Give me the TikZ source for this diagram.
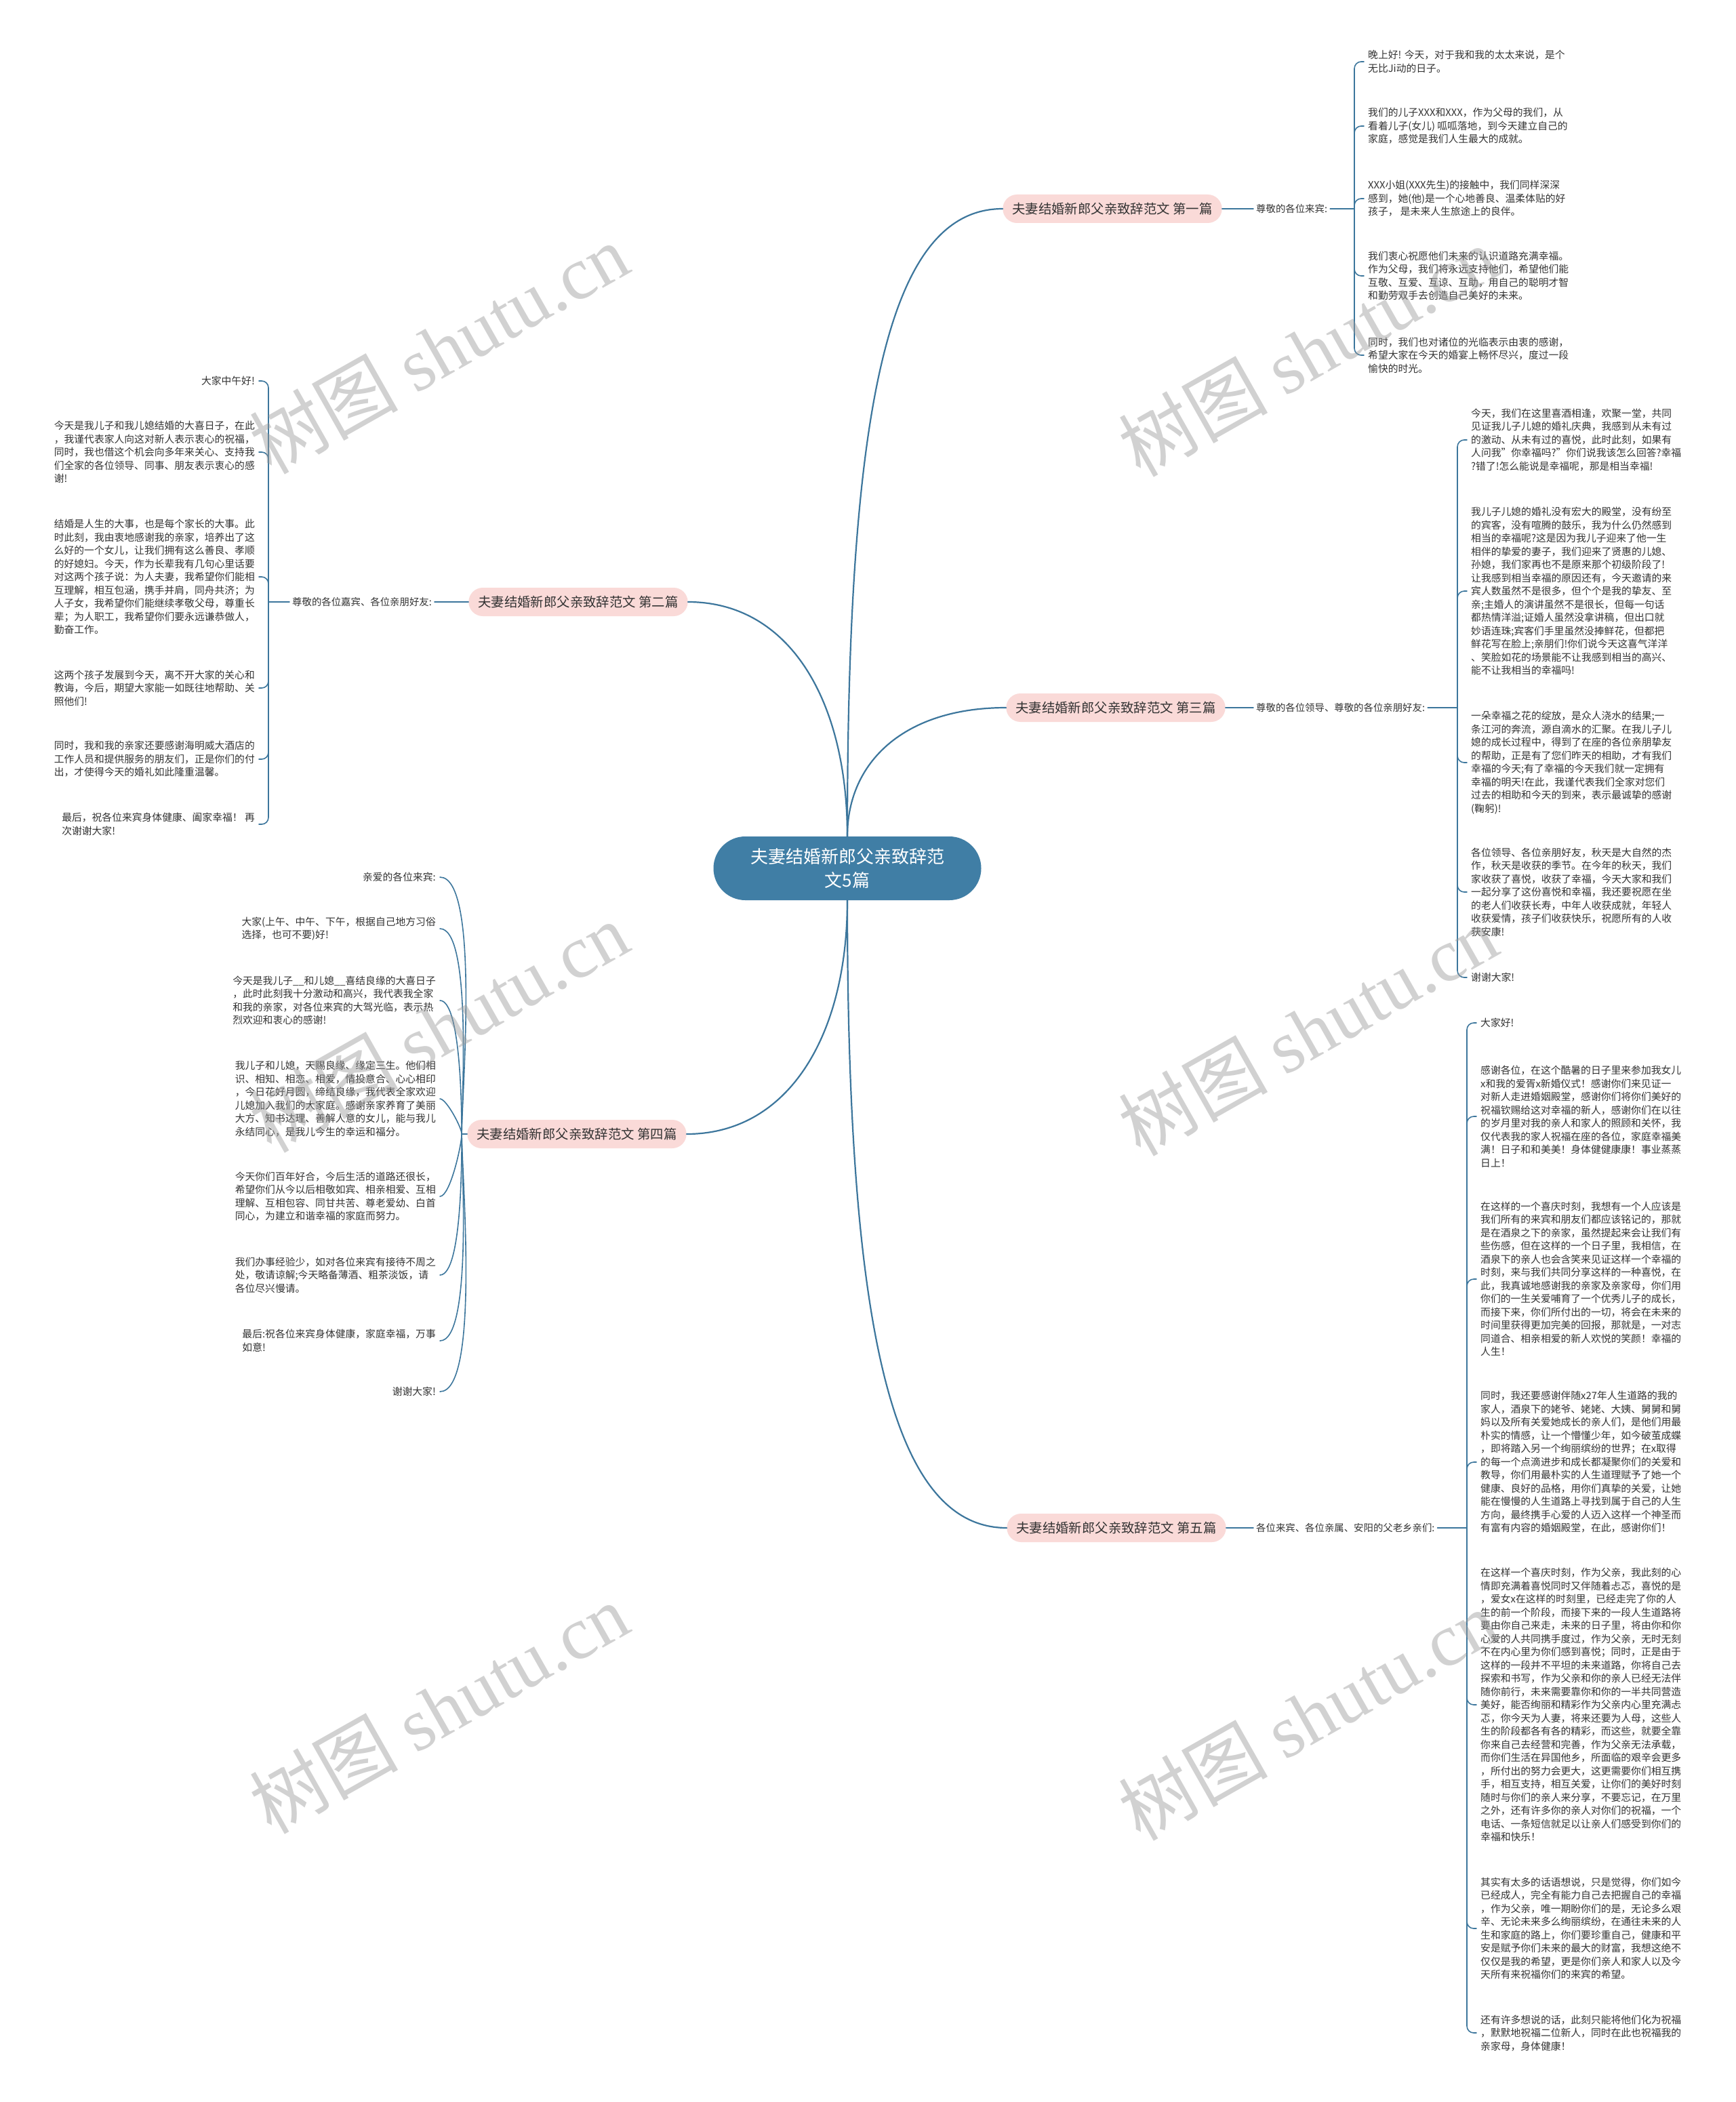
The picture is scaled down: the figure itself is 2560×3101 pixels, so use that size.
\documentclass[tikz,border=0pt]{standalone}
\usepackage{fontspec}
\setmainfont{Noto Sans CJK SC}
\newfontfamily\wmserif{Liberation Serif}
\usepackage{xcolor}
\usepackage{tikz}
\usetikzlibrary{calc}
\definecolor{rootblue}{RGB}{64,126,165}
\definecolor{topicpink}{RGB}{250,218,216}
\definecolor{lineblue}{RGB}{60,118,156}
\definecolor{inkgray}{RGB}{51,51,51}
\tikzset{
  rootbox/.style={rounded corners=47pt, fill=rootblue, text=white, minimum width=395pt, minimum height=94pt, align=center, font=\fontsize{26}{35}\selectfont},
  topic/.style={rounded corners=21pt, fill=topicpink, text=inkgray, minimum height=42pt, inner xsep=14pt, font=\fontsize{19.4}{22}\selectfont},
  lab/.style={text=inkgray, inner sep=4pt, font=\fontsize{14.4}{17}\selectfont},
  leaf/.style={text=inkgray, align=left, inner xsep=6pt, inner ysep=2pt, font=\fontsize{14.8}{19.5}\selectfont},
  mainline/.style={draw=lineblue, line width=2.2pt},
  twig/.style={draw=lineblue, line width=1.6pt, rounded corners=10pt},
  wmark/.style={text=black!40, text opacity=0.45, rotate=29.5, font=\fontsize{110}{120}\selectfont},
  every picture/.style={line cap=round, line join=round}
}

\begin{document}
\begin{tikzpicture}[x=1pt,y=-1pt]
    \fill[white] (0,0) rectangle (2560,3101);
    \useasboundingbox (0,0) rectangle (2560,3101);

    % centre and the five topics
    \node[rootbox] (c) at (1250,1281) {夫妻结婚新郎父亲致辞范\\文5篇};
    \node[topic] (b1) at (1641,308) {夫妻结婚新郎父亲致辞范文 第一篇};
    \node[topic] (b2) at (853,888) {夫妻结婚新郎父亲致辞范文 第二篇};
    \node[topic] (b3) at (1646,1044) {夫妻结婚新郎父亲致辞范文 第三篇};
    \node[topic] (b4) at (851,1673) {夫妻结婚新郎父亲致辞范文 第四篇};
    \node[topic] (b5) at (1647,2254) {夫妻结婚新郎父亲致辞范文 第五篇};

    \draw[mainline] (c.north) to[out=90,in=180,out distance=630pt,in distance=170pt] (b1.west);
    \draw[mainline] (c.north) to[out=90,in=0,out distance=200pt,in distance=150pt] (b2.east);
    \draw[mainline] (c.north) to[out=90,in=180,out distance=110pt,in distance=150pt] (b3.west);
    \draw[mainline] (c.south) to[out=-90,in=0,out distance=200pt,in distance=150pt] (b4.east);
    \draw[mainline] (c.south) to[out=-90,in=180,out distance=630pt,in distance=170pt] (b5.west);

    % first
    \node[lab, anchor=west] (lab1) at (1849,308) {尊敬的各位来宾:};
    \coordinate (s1) at (1998,308);
    \node[leaf, anchor=west] (p1a) at (2012,91) {晚上好! 今天，对于我和我的太太来说，是个\\无比Ji动的日子。};
    \node[leaf, anchor=west] (p1b) at (2012,186) {我们的儿子XXX和XXX，作为父母的我们，从\\看着儿子(女儿) 呱呱落地，到今天建立自己的\\家庭，感觉是我们人生最大的成就。};
    \node[leaf, anchor=west] (p1c) at (2012,293) {XXX小姐(XXX先生)的接触中，我们同样深深\\感到，她(他)是一个心地善良、温柔体贴的好\\孩子， 是未来人生旅途上的良伴。};
    \node[leaf, anchor=west] (p1d) at (2012,407) {我们衷心祝愿他们未来的认识道路充满幸福。\\作为父母，我们将永远支持他们，希望他们能\\互敬、互爱、互谅、互助，用自己的聪明才智\\和勤劳双手去创造自己美好的未来。};
    \node[leaf, anchor=west] (p1e) at (2012,524) {同时，我们也对诸位的光临表示由衷的感谢，\\希望大家在今天的婚宴上畅怀尽兴，度过一段\\愉快的时光。};
    \draw[twig] (b1.east) -- (lab1.west);
    \draw[twig] (lab1.east) -- (s1);
    \foreach \p in {p1a,p1b,p1c,p1d,p1e}
      \draw[twig] (s1) |- (\p.west);

    % second
    \node[lab, anchor=east] (lab2) at (641,888) {尊敬的各位嘉宾、各位亲朋好友:};
    \coordinate (s2) at (396,888);
    \node[leaf, anchor=east] (p2a) at (382,562) {大家中午好!};
    \node[leaf, anchor=east] (p2b) at (382,667) {今天是我儿子和我儿媳结婚的大喜日子，在此\\，我谨代表家人向这对新人表示衷心的祝福，\\同时，我也借这个机会向多年来关心、支持我\\们全家的各位领导、同事、朋友表示衷心的感\\谢!};
    \node[leaf, anchor=east] (p2c) at (382,851) {结婚是人生的大事，也是每个家长的大事。此\\时此刻，我由衷地感谢我的亲家，培养出了这\\么好的一个女儿，让我们拥有这么善良、孝顺\\的好媳妇。今天，作为长辈我有几句心里话要\\对这两个孩子说：为人夫妻，我希望你们能相\\互理解，相互包涵，携手并肩，同舟共济；为\\人子女，我希望你们能继续孝敬父母，尊重长\\辈；为人职工，我希望你们要永远谦恭做人，\\勤奋工作。};
    \node[leaf, anchor=east] (p2d) at (382,1015) {这两个孩子发展到今天，离不开大家的关心和\\教诲，今后，期望大家能一如既往地帮助、关\\照他们!};
    \node[leaf, anchor=east] (p2e) at (382,1120) {同时，我和我的亲家还要感谢海明威大酒店的\\工作人员和提供服务的朋友们，正是你们的付\\出，才使得今天的婚礼如此隆重温馨。};
    \node[leaf, anchor=east] (p2f) at (382,1216) {最后，祝各位来宾身体健康、阖家幸福！ 再\\次谢谢大家!};
    \draw[twig] (b2.west) -- (lab2.east);
    \draw[twig] (lab2.west) -- (s2);
    \foreach \p in {p2a,p2b,p2c,p2d,p2e,p2f}
      \draw[twig] (s2) |- (\p.east);

    % third
    \node[lab, anchor=west] (lab3) at (1849,1044) {尊敬的各位领导、尊敬的各位亲朋好友:};
    \coordinate (s3) at (2150,1044);
    \node[leaf, anchor=west] (p3a) at (2164,649) {今天，我们在这里喜酒相逢，欢聚一堂，共同\\见证我儿子儿媳的婚礼庆典，我感到从未有过\\的激动、从未有过的喜悦，此时此刻，如果有\\人问我"你幸福吗?"你们说我该怎么回答?幸福\\?错了!怎么能说是幸福呢，那是相当幸福!};
    \node[leaf, anchor=west] (p3b) at (2164,872) {我儿子儿媳的婚礼没有宏大的殿堂，没有纷至\\的宾客，没有喧腾的鼓乐，我为什么仍然感到\\相当的幸福呢?这是因为我儿子迎来了他一生\\相伴的挚爱的妻子，我们迎来了贤惠的儿媳、\\孙媳，我们家再也不是原来那个初级阶段了!\\让我感到相当幸福的原因还有，今天邀请的来\\宾人数虽然不是很多，但个个是我的挚友、至\\亲;主婚人的演讲虽然不是很长，但每一句话\\都热情洋溢;证婚人虽然没拿讲稿，但出口就\\妙语连珠;宾客们手里虽然没捧鲜花，但都把\\鲜花写在脸上;亲朋们!你们说今天这喜气洋洋\\、笑脸如花的场景能不让我感到相当的高兴、\\能不让我相当的幸福吗!};
    \node[leaf, anchor=west] (p3c) at (2164,1125) {一朵幸福之花的绽放，是众人浇水的结果;一\\条江河的奔流，源自滴水的汇聚。在我儿子儿\\媳的成长过程中，得到了在座的各位亲朋挚友\\的帮助，正是有了您们昨天的相助，才有我们\\幸福的今天;有了幸福的今天我们就一定拥有\\幸福的明天!在此，我谨代表我们全家对您们\\过去的相助和今天的到来，表示最诚挚的感谢\\(鞠躬)!};
    \node[leaf, anchor=west] (p3d) at (2164,1316) {各位领导、各位亲朋好友，秋天是大自然的杰\\作，秋天是收获的季节。在今年的秋天，我们\\家收获了喜悦，收获了幸福，今天大家和我们\\一起分享了这份喜悦和幸福，我还要祝愿在坐\\的老人们收获长寿，中年人收获成就，年轻人\\收获爱情，孩子们收获快乐，祝愿所有的人收\\获安康!};
    \node[leaf, anchor=west] (p3e) at (2164,1442) {谢谢大家!};
    \draw[twig] (b3.east) -- (lab3.west);
    \draw[twig] (lab3.east) -- (s3);
    \foreach \p in {p3a,p3b,p3c,p3d,p3e}
      \draw[twig] (s3) |- (\p.west);

    % fourth, curved straight from the topic
    \coordinate (j4) at ($(b4.west)+(-8,0)$);
    \node[leaf, anchor=east] (p4a) at (649,1294) {亲爱的各位来宾:};
    \node[leaf, anchor=east] (p4b) at (649,1370) {大家(上午、中午、下午，根据自己地方习俗\\选择，也可不要)好!};
    \node[leaf, anchor=east] (p4c) at (649,1476) {今天是我儿子\_\_和儿媳\_\_喜结良缘的大喜日子\\，此时此刻我十分激动和高兴，我代表我全家\\和我的亲家，对各位来宾的大驾光临，表示热\\烈欢迎和衷心的感谢!};
    \node[leaf, anchor=east] (p4d) at (649,1621) {我儿子和儿媳，天赐良缘、缘定三生。他们相\\识、相知、相恋、相爱，情投意合、心心相印\\，今日花好月圆，缔结良缘，我代表全家欢迎\\儿媳加入我们的大家庭。感谢亲家养育了美丽\\大方、知书达理、善解人意的女儿，能与我儿\\永结同心，是我儿今生的幸运和福分。};
    \node[leaf, anchor=east] (p4e) at (649,1765) {今天你们百年好合，今后生活的道路还很长，\\希望你们从今以后相敬如宾、相亲相爱、互相\\理解、互相包容、同甘共苦、尊老爱幼、白首\\同心，为建立和谐幸福的家庭而努力。};
    \node[leaf, anchor=east] (p4f) at (649,1881) {我们办事经验少，如对各位来宾有接待不周之\\处，敬请谅解;今天略备薄酒、粗茶淡饭，请\\各位尽兴慢请。};
    \node[leaf, anchor=east] (p4g) at (649,1978) {最后:祝各位来宾身体健康，家庭幸福，万事\\如意!};
    \node[leaf, anchor=east] (p4h) at (649,2053) {谢谢大家!};
    \draw[twig] (b4.west) -- (j4);
    \foreach \p in {p4a,p4b,p4c,p4d}
      \draw[twig] (j4) to[out=90,in=0,looseness=0.4] (\p.east);
    \foreach \p in {p4e,p4f,p4g,p4h}
      \draw[twig] (j4) to[out=-90,in=0,looseness=0.4] (\p.east);

    % fifth
    \node[lab, anchor=west] (lab5) at (1849,2254) {各位来宾、各位亲属、安阳的父老乡亲们:};
    \coordinate (s5) at (2164,2254);
    \node[leaf, anchor=west] (p5a) at (2178,1509) {大家好!};
    \node[leaf, anchor=west] (p5b) at (2178,1647) {感谢各位，在这个酷暑的日子里来参加我女儿\\x和我的爱胥x新婚仪式！感谢你们来见证一\\对新人走进婚姻殿堂，感谢你们将你们美好的\\祝福钦赐给这对幸福的新人，感谢你们在以往\\的岁月里对我的亲人和家人的照顾和关怀，我\\仅代表我的家人祝福在座的各位，家庭幸福美\\满！日子和和美美！身体健健康康！事业蒸蒸\\日上！};
    \node[leaf, anchor=west] (p5c) at (2178,1887) {在这样的一个喜庆时刻，我想有一个人应该是\\我们所有的来宾和朋友们都应该铭记的，那就\\是在酒泉之下的亲家，虽然提起来会让我们有\\些伤感，但在这样的一个日子里，我相信，在\\酒泉下的亲人也会含笑来见证这样一个幸福的\\时刻，来与我们共同分享这样的一种喜悦，在\\此，我真诚地感谢我的亲家及亲家母，你们用\\你们的一生关爱哺育了一个优秀儿子的成长，\\而接下来，你们所付出的一切，将会在未来的\\时间里获得更加完美的回报，那就是，一对志\\同道合、相亲相爱的新人欢悦的笑颜！幸福的\\人生！};
    \node[leaf, anchor=west] (p5d) at (2178,2157) {同时，我还要感谢伴随x27年人生道路的我的\\家人，酒泉下的姥爷、姥姥、大姨、舅舅和舅\\妈以及所有关爱她成长的亲人们，是他们用最\\朴实的情感，让一个懵懂少年，如今破茧成蝶\\，即将踏入另一个绚丽缤纷的世界；在x取得\\的每一个点滴进步和成长都凝聚你们的关爱和\\教导，你们用最朴实的人生道理赋予了她一个\\健康、良好的品格，用你们真挚的关爱，让她\\能在慢慢的人生道路上寻找到属于自己的人生\\方向，最终携手心爱的人迈入这样一个神圣而\\有富有内容的婚姻殿堂，在此，感谢你们！};
    \node[leaf, anchor=west] (p5e) at (2178,2515) {在这样一个喜庆时刻，作为父亲，我此刻的心\\情即充满着喜悦同时又伴随着忐忑，喜悦的是\\，爱女x在这样的时刻里，已经走完了你的人\\生的前一个阶段，而接下来的一段人生道路将\\要由你自己来走，未来的日子里，将由你和你\\心爱的人共同携手度过，作为父亲，无时无刻\\不在内心里为你们感到喜悦；同时，正是由于\\这样的一段并不平坦的未来道路，你将自己去\\探索和书写，作为父亲和你的亲人已经无法伴\\随你前行，未来需要靠你和你的一半共同营造\\美好，能否绚丽和精彩作为父亲内心里充满忐\\忑，你今天为人妻，将来还要为人母，这些人\\生的阶段都各有各的精彩，而这些，就要全靠\\你来自己去经营和完善，作为父亲无法承载，\\而你们生活在异国他乡，所面临的艰辛会更多\\，所付出的努力会更大，这更需要你们相互携\\手，相互支持，相互关爱，让你们的美好时刻\\随时与你们的亲人来分享，不要忘记，在万里\\之外，还有许多你的亲人对你们的祝福，一个\\电话、一条短信就足以让亲人们感受到你们的\\幸福和快乐！};
    \node[leaf, anchor=west] (p5f) at (2178,2845) {其实有太多的话语想说，只是觉得，你们如今\\已经成人，完全有能力自己去把握自己的幸福\\，作为父亲，唯一期盼你们的是，无论多么艰\\辛、无论未来多么绚丽缤纷，在通往未来的人\\生和家庭的路上，你们要珍重自己，健康和平\\安是赋予你们未来的最大的财富，我想这绝不\\仅仅是我的希望，更是你们亲人和家人以及今\\天所有来祝福你们的来宾的希望。};
    \node[leaf, anchor=west] (p5g) at (2178,2999) {还有许多想说的话，此刻只能将他们化为祝福\\，默默地祝福二位新人，同时在此也祝福我的\\亲家母，身体健康！};
    \draw[twig] (b5.east) -- (lab5.west);
    \draw[twig] (lab5.east) -- (s5);
    \foreach \p in {p5a,p5b,p5c,p5d,p5e,p5f,p5g}
      \draw[twig] (s5) |- (\p.west);

    % watermarks
    \node[wmark] (w1) at (647,514) {树图 {\wmserif shutu.cn}};
    \node[wmark] (w2) at (1929,518) {树图 {\wmserif shutu.cn}};
    \node[wmark] (w3) at (647,1515) {树图 {\wmserif shutu.cn}};
    \node[wmark] (w4) at (1929,1520) {树图 {\wmserif shutu.cn}};
    \node[wmark] (w5) at (647,2520) {树图 {\wmserif shutu.cn}};
    \node[wmark] (w6) at (1929,2530) {树图 {\wmserif shutu.cn}};
\end{tikzpicture}
\end{document}
